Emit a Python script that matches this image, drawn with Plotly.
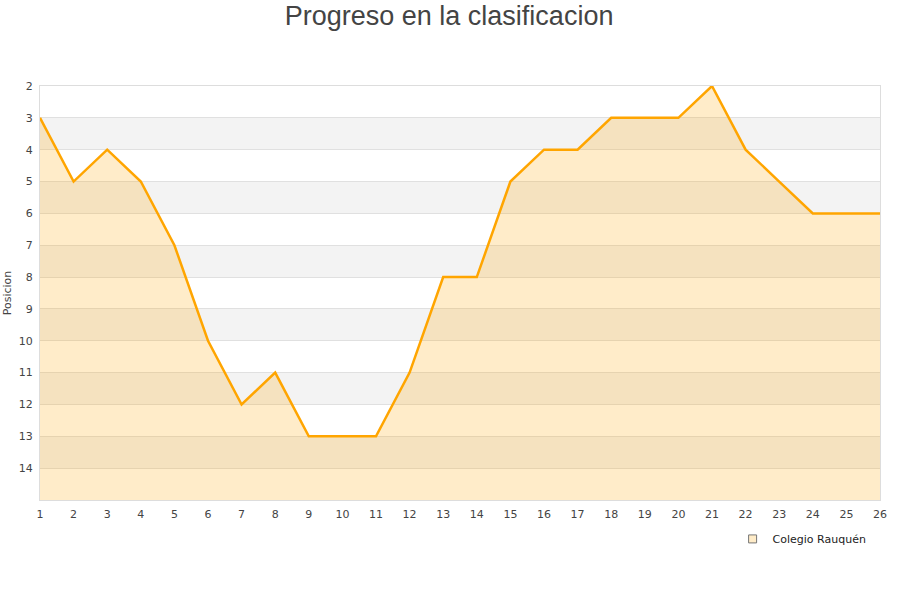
import plotly.graph_objects as go

jornadas = list(range(1, 27))
posiciones = [3, 5, 4, 5, 7, 10, 12, 11, 13, 13, 13, 11, 8, 8, 5, 4, 4, 3, 3, 3, 2, 4, 5, 6, 6, 6]
equipo = "Colegio Rauquén"
y_min, y_max = 2, 15

fig = go.Figure()
# baseline for the area fill (bottom of the chart)
fig.add_trace(go.Scatter(x=jornadas, y=[y_max] * len(jornadas), mode="lines",
                         line=dict(width=0), hoverinfo="skip", showlegend=False))
fig.add_trace(go.Scatter(x=jornadas, y=posiciones, mode="lines", name=equipo,
                         line=dict(color="#ffa500", width=2.5),
                         fill="tonexty", fillcolor="rgba(255,165,0,0.21)",
                         showlegend=False))
# legend entry
fig.add_trace(go.Scatter(x=[None], y=[None], mode="markers", name=equipo,
                         marker=dict(symbol="square", size=8, color="#ffecc8",
                                     line=dict(color="#777", width=1))))

shapes = []
for k in range(y_min + 1, y_max, 2):
    shapes.append(dict(type="rect", xref="paper", yref="y", x0=0, x1=1, y0=k, y1=k + 1,
                       fillcolor="#f3f3f3", line=dict(width=0), layer="below"))

fig.update_layout(
    width=900, height=600,
    paper_bgcolor="white", plot_bgcolor="white",
    margin=dict(l=40, r=20, t=86, b=100, autoexpand=False),
    title=dict(text="Progreso en la clasificacion", x=0.499, xanchor="center",
               y=1 - 16 / 600, yanchor="middle",
               font=dict(family="Liberation Sans, Arial, sans-serif", size=27, color="#444")),
    font=dict(family="DejaVu Sans, sans-serif", size=11, color="#444"),
    shapes=shapes,
    showlegend=True,
    legend=dict(orientation="h", x=0.99, xanchor="right", y=-0.094, yanchor="middle",
                font=dict(size=11, color="#222"), bgcolor="rgba(0,0,0,0)"),
    xaxis=dict(range=[1, 26], tickmode="array", tickvals=jornadas,
               ticktext=[str(j) for j in jornadas], showgrid=False, zeroline=False,
               showline=True, linecolor="#ddd", mirror=True, ticks="",
               ticklabelstandoff=4,
               tickfont=dict(size=11, color="#444")),
    yaxis=dict(range=[y_max, y_min], tickmode="array",
               tickvals=list(range(y_min, y_max)),
               ticktext=[str(v) for v in range(y_min, y_max)],
               showgrid=True, gridcolor="#e0e0e0", zeroline=False,
               showline=True, linecolor="#ddd", mirror=True, ticks="",
               ticklabelstandoff=4,
               title=dict(text="Posicion", font=dict(size=11, color="#444"), standoff=4),
               tickfont=dict(size=11, color="#444"), layer="above traces"),
)
fig.write_html("out.html", config={"displayModeBar": False},
               post_script="document.body.style.margin='0';")
